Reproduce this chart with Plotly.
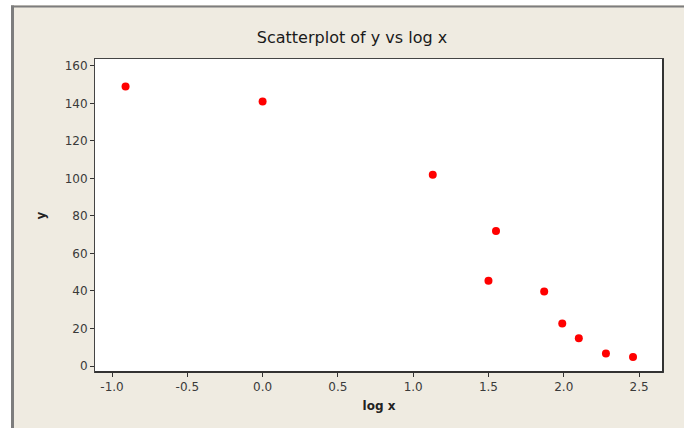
import plotly.graph_objects as go

log_x = [-0.91, 0.0, 1.13, 1.55, 1.50, 1.87, 1.99, 2.10, 2.28, 2.46]
y_vals = [149, 141, 102, 72, 45.5, 39.7, 22.6, 14.8, 6.7, 4.8]
x_ticks = [-1.0, -0.5, 0.0, 0.5, 1.0, 1.5, 2.0, 2.5]
x_tick_labels = ["-1.0", "-0.5", "0.0", "0.5", "1.0", "1.5", "2.0", "2.5"]
y_ticks = [0, 20, 40, 60, 80, 100, 120, 140, 160]

fig = go.Figure()
fig.add_trace(go.Scatter(
    x=log_x, y=y_vals, mode="markers",
    marker=dict(color="#ff0000", size=8, symbol="circle"),
    showlegend=False,
))

W, H = 684, 428
L, R, T, B = 95, 21, 59, 56
pw, ph = W - L - R, H - T - B

def px(xp):
    return (xp - L) / pw

def py(yp):
    return (H - B - yp) / ph

frame = "#7d7d7d"
fig.update_layout(
    width=W, height=H,
    margin=dict(l=L, r=R, t=T, b=B),
    paper_bgcolor="#efebe1",
    plot_bgcolor="#ffffff",
    font=dict(family="DejaVu Sans", size=12, color="#3a3a3a"),
    title=dict(text="Scatterplot of y vs log x", x=352 / W, xanchor="center",
               y=1 - 37 / H, yanchor="middle",
               font=dict(size=16, color="#1a1a1a")),
    xaxis=dict(range=[-1.113, 2.659], tickvals=x_ticks, ticktext=x_tick_labels,
               ticks="outside", ticklen=4, tickcolor="#333333",
               showgrid=False, zeroline=False, showline=True, mirror=True,
               linecolor="#444444", linewidth=1,
               title=dict(text="<b>log x</b>", standoff=8, font=dict(size=12, color="#222222"))),
    yaxis=dict(range=[-3.2, 163.7], tickvals=y_ticks,
               ticks="outside", ticklen=4, tickcolor="#333333",
               showgrid=False, zeroline=False, showline=True, mirror=True,
               linecolor="#444444", linewidth=1,
               title=dict(text="<b>y</b>", standoff=16, font=dict(size=12, color="#222222"))),
    shapes=[
        dict(type="rect", xref="paper", yref="paper", x0=px(0), x1=px(11), y0=py(0), y1=py(H),
             fillcolor="#ffffff", line=dict(width=0)),
        dict(type="rect", xref="paper", yref="paper", x0=px(0), x1=px(W), y0=py(0), y1=py(5),
             fillcolor="#ffffff", line=dict(width=0)),
        dict(type="line", xref="paper", yref="paper", x0=px(12.5), x1=px(12.5), y0=py(5.5), y1=py(H),
             line=dict(color=frame, width=3)),
        dict(type="line", xref="paper", yref="paper", x0=px(11), x1=px(W), y0=py(6.5), y1=py(6.5),
             line=dict(color=frame, width=2)),
        dict(type="line", xref="paper", yref="paper", x0=1.0, x1=1.0, y0=0, y1=1,
             line=dict(color="#333333", width=2)),
        dict(type="line", xref="paper", yref="paper", x0=0, x1=1.0, y0=0, y1=0,
             line=dict(color="#333333", width=2)),
    ],
)

fig.write_html("out.html", config={"displayModeBar": False},
               post_script="document.body.style.margin='0';")
